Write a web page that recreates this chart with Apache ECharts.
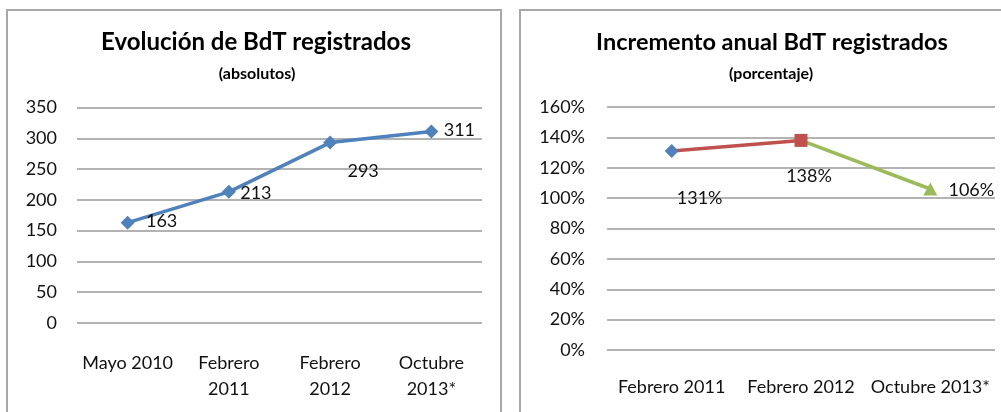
<!DOCTYPE html>
<html>
<head>
<meta charset="utf-8">
<script src="https://cdn.jsdelivr.net/npm/echarts@6/dist/echarts.min.js"></script>
<style>
html,body{margin:0;padding:0;background:#fff;}
#c{width:1001px;height:412px;}
</style>
</head>
<body>
<div id="c"></div>
<script>
// ---- data ----
var absCategories = ['Mayo 2010', 'Febrero 2011', 'Febrero 2012', 'Octubre 2013*'];
var absValues = [163, 213, 293, 311];
var pctCategories = ['Febrero 2011', 'Febrero 2012', 'Octubre 2013*'];
var pctValues = [1.31, 1.38, 1.06];
var absTitle = 'Evolución de BdT registrados';
var absSubtitle = '(absolutos)';
var pctTitle = 'Incremento anual BdT registrados';
var pctSubtitle = '(porcentaje)';

// ---- styling ----
var FONT = 'Lato';
var TXT = '#111';
var GRID = '#9a9a9a';
var BLUE = '#4F81BD', RED = '#C0504D', GREEN = '#9BBB59';
var absLabelOffsets = [[34, -1], [27, 1], [33, 29], [28, -1]];
var pctLabelOffsets = [[28, 47], [8, 36], [41, 1]];
var pctSymbols = ['diamond', 'rect', 'triangle'];
var pctColors = [BLUE, RED, GREEN];

function pctFmt(v) { return Math.round(v * 100) + '%'; }

var chart = echarts.init(document.getElementById('c'), null, {renderer: 'canvas'});

var absData = absValues.map(function (v, i) {
  return {value: v, label: {offset: absLabelOffsets[i]}};
});

// right chart: one series per point, line segment coloured like the point it ends at
var pctSeries = [];
for (var k = pctValues.length - 1; k >= 0; k--) {
  var d = pctValues.map(function () { return null; });
  d[k] = {value: pctValues[k], symbol: pctSymbols[k], symbolSize: pctSymbols[k] === 'rect' ? 13 : (pctSymbols[k] === 'triangle' ? [14, 13] : 14),
          label: {show: true, offset: pctLabelOffsets[k]}};
  if (k > 0) d[k - 1] = {value: pctValues[k - 1], symbol: 'none', label: {show: false}};
  pctSeries.push({
    type: 'line',
    xAxisIndex: 1, yAxisIndex: 1,
    data: d,
    connectNulls: false,
    z: 10 - k,
    color: pctColors[k],
    itemStyle: {color: pctColors[k], opacity: 1},
    lineStyle: {color: pctColors[k], width: k > 0 ? 3.5 : 0},
    showAllSymbol: true,
    label: {position: 'inside', color: TXT, fontFamily: FONT, fontSize: 18, formatter: function (p) { return pctFmt(p.value); }},
    emphasis: {disabled: true},
    animation: false
  });
}

var option = {
  animation: false,
  graphic: [
    {type: 'rect', shape: {x: 7, y: 10, width: 494, height: 420}, style: {fill: 'none', stroke: '#a8a8a8', lineWidth: 2}, silent: true},
    {type: 'rect', shape: {x: 520, y: 10, width: 500, height: 420}, style: {fill: 'none', stroke: '#a8a8a8', lineWidth: 2}, silent: true}
  ],
  title: [
    {text: absTitle, left: 251, top: 25, textAlign: 'center',
     textStyle: {fontFamily: FONT, fontWeight: 'bold', fontSize: 24, color: '#000'}},
    {text: absSubtitle, left: 252, top: 61, textAlign: 'center',
     textStyle: {fontFamily: FONT, fontWeight: 'bold', fontSize: 16, color: '#000'}},
    {text: pctTitle, left: 767, top: 25, textAlign: 'center',
     textStyle: {fontFamily: FONT, fontWeight: 'bold', fontSize: 23.5, color: '#000'}},
    {text: pctSubtitle, left: 766, top: 61, textAlign: 'center',
     textStyle: {fontFamily: FONT, fontWeight: 'bold', fontSize: 16, color: '#000'}}
  ],
  grid: [
    {left: 77, right: 519, top: 107.5, bottom: 89, containLabel: false},
    {left: 607, right: 6, top: 107, bottom: 62, containLabel: false}
  ],
  xAxis: [
    {type: 'category', gridIndex: 0, data: absCategories, boundaryGap: true,
     axisLine: {show: false}, axisTick: {show: false},
     axisLabel: {interval: 0, margin: 27, color: TXT, fontFamily: FONT, fontSize: 18, lineHeight: 26,
       formatter: function (v, i) { return i === 0 ? v : v.replace(' ', '\n'); }}},
    {type: 'category', gridIndex: 1, data: pctCategories, boundaryGap: true,
     axisLine: {show: false}, axisTick: {show: false},
     axisLabel: {interval: 0, margin: 28, color: TXT, fontFamily: FONT, fontSize: 18}}
  ],
  yAxis: [
    {type: 'value', gridIndex: 0, min: 0, max: 350, interval: 50,
     axisLine: {show: false}, axisTick: {show: false},
     splitLine: {lineStyle: {color: GRID, width: 1.5}},
     axisLabel: {margin: 20, color: TXT, fontFamily: FONT, fontSize: 18}},
    {type: 'value', gridIndex: 1, min: 0, max: 1.6, interval: 0.2,
     axisLine: {show: false}, axisTick: {show: false},
     splitLine: {lineStyle: {color: GRID, width: 1.5}},
     axisLabel: {margin: 22, color: TXT, fontFamily: FONT, fontSize: 18, formatter: pctFmt}}
  ],
  series: [
    {type: 'line', xAxisIndex: 0, yAxisIndex: 0, data: absData,
     symbol: 'diamond', symbolSize: 14, color: BLUE,
     itemStyle: {color: BLUE}, lineStyle: {color: BLUE, width: 3.5},
     label: {show: true, position: 'inside', color: TXT, fontFamily: FONT, fontSize: 18},
     emphasis: {disabled: true}}
  ].concat(pctSeries)
};
chart.setOption(option);
</script>
</body>
</html>
